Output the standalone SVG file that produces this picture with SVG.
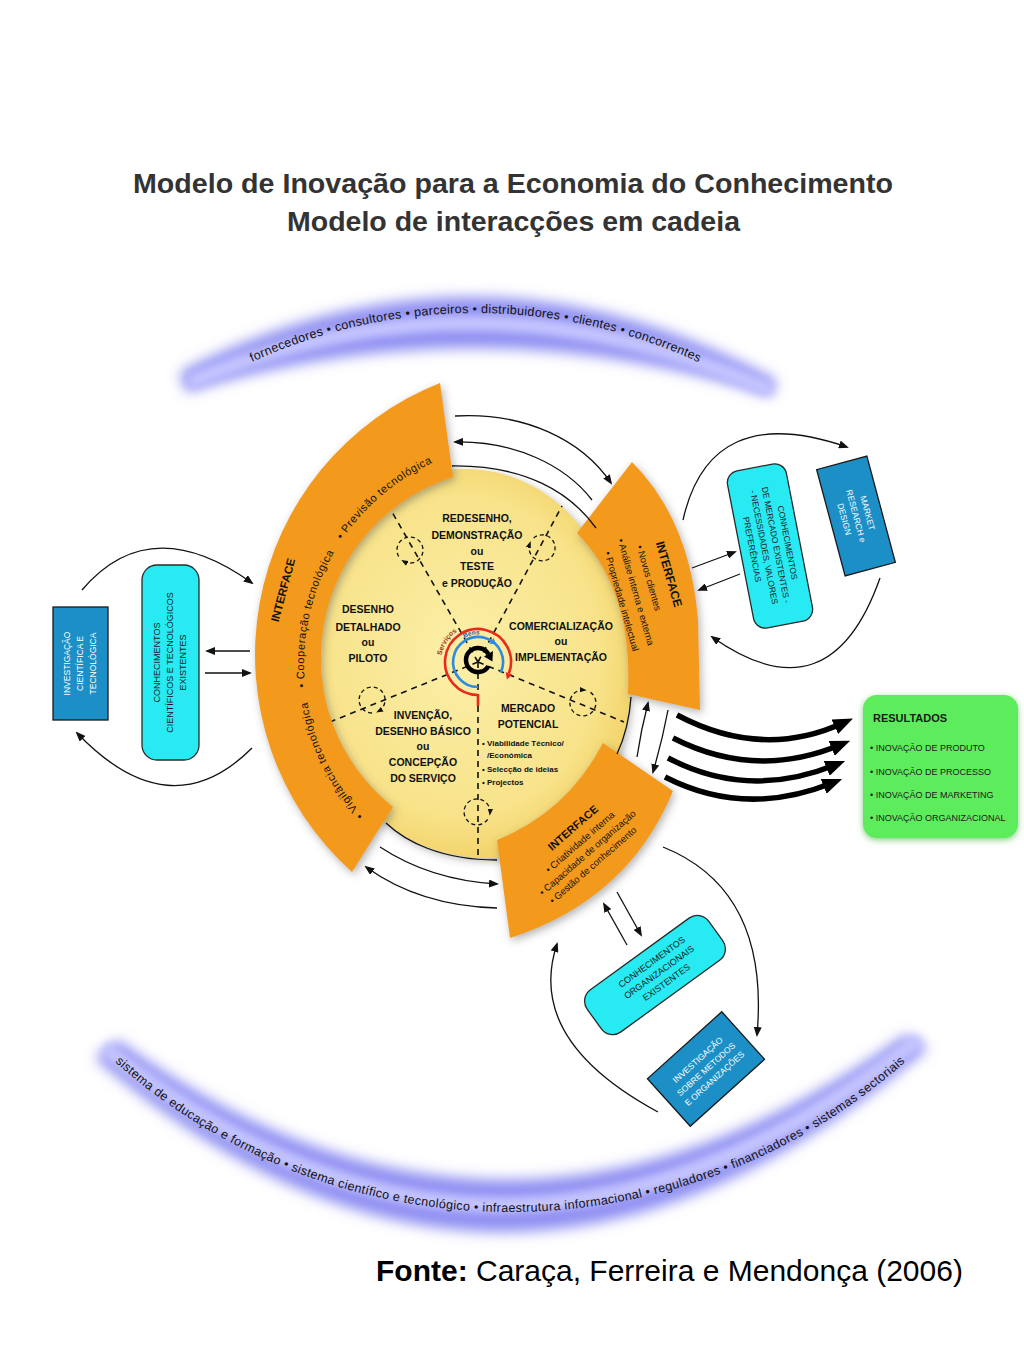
<svg xmlns="http://www.w3.org/2000/svg" width="1024" height="1365" viewBox="0 0 1024 1365">
<defs>
<style>
.title{font-family:"Liberation Sans",Arial,sans-serif;font-weight:bold;font-size:28.5px;fill:#333;text-anchor:middle}
.arcT{font-family:"Liberation Sans",Arial,sans-serif;font-size:12.5px;fill:#111}
.stage{font-family:"Liberation Sans",Arial,sans-serif;font-weight:bold;font-size:10.5px;fill:#111;text-anchor:middle}
.small{font-family:"Liberation Sans",Arial,sans-serif;font-weight:bold;font-size:8px;fill:#111}
.ifT{font-family:"Liberation Sans",Arial,sans-serif;font-weight:bold;font-size:12px;fill:#111;text-anchor:middle}
.ifB{font-family:"Liberation Sans",Arial,sans-serif;font-size:9.5px;fill:#111;text-anchor:middle}
.arcL{font-family:"Liberation Sans",Arial,sans-serif;font-size:11px;fill:#111}
.box{font-family:"Liberation Sans",Arial,sans-serif;font-size:8.5px;text-anchor:middle;fill:#1a1a1a}
.wbox{font-family:"Liberation Sans",Arial,sans-serif;font-size:8.5px;text-anchor:middle;fill:#fff}
.res{font-family:"Liberation Sans",Arial,sans-serif;font-size:9px;fill:#1a1a1a}
.orange{fill:#f39a1e}
.cyan{fill:#27eaf2;stroke:#2a2a2a;stroke-width:1.3}
.dblue{fill:#1c8fc6;stroke:#1a1a1a;stroke-width:1.3}
.ln{fill:none;stroke:#111;stroke-width:1.3}
.la{fill:none;stroke:#111;stroke-width:1.3;marker-end:url(#ah)}
.thick{fill:none;stroke:#000;stroke-width:5.5;marker-end:url(#ahb)}
.dash{fill:none;stroke:#111;stroke-width:1.6;stroke-dasharray:6 5}
.dcirc{fill:none;stroke:#111;stroke-width:1.3;stroke-dasharray:4 3;marker-end:url(#ahs)}
</style>
<marker id="ah" viewBox="0 0 10 8" refX="8" refY="4" markerWidth="10" markerHeight="8" markerUnits="userSpaceOnUse" orient="auto"><path d="M0,0L10,4L0,8Z" fill="#111"/></marker>
<marker id="ahs" viewBox="0 0 8 6" refX="5" refY="3" markerWidth="7" markerHeight="6" markerUnits="userSpaceOnUse" orient="auto"><path d="M0,0L8,3L0,6Z" fill="#111"/></marker>
<marker id="ahb" viewBox="0 0 20 16" refX="9" refY="8" markerWidth="20" markerHeight="16" markerUnits="userSpaceOnUse" orient="auto"><path d="M0,0L20,8L0,16Z" fill="#000"/></marker>
<filter id="blurA" x="-10%" y="-40%" width="120%" height="180%"><feGaussianBlur stdDeviation="7"/></filter>
<filter id="blurB" x="-10%" y="-40%" width="120%" height="180%"><feGaussianBlur stdDeviation="4"/></filter>
<filter id="sh" x="-20%" y="-20%" width="140%" height="140%"><feDropShadow dx="2" dy="3" stdDeviation="4" flood-color="#555" flood-opacity="0.45"/></filter>
<filter id="gsh" x="-20%" y="-20%" width="140%" height="140%"><feDropShadow dx="0" dy="2" stdDeviation="3" flood-color="#3a3" flood-opacity="0.6"/></filter>
<radialGradient id="yg" cx="50%" cy="48%" r="55%"><stop offset="0" stop-color="#fbefa8"/><stop offset="0.75" stop-color="#f8e38a"/><stop offset="1" stop-color="#f1d063"/></radialGradient>
<path id="topArc" d="M252,362 A532,532 0 0,1 698,362"/>
<path id="botArc" d="M115,1062 A595,595 0 0,0 905,1062"/>
<path id="arcV" d="M363.6,815.4 A222,222 0 0,1 306.2,694.9"/>
<path id="arcC" d="M305.2,687.2 A222,222 0 0,1 337.7,546.4"/>
<path id="arcP" d="M342,539.9 A222,222 0 0,1 435.7,461.2"/>
<path id="servArc" d="M441.6,655.6 A37,37 0 0,1 462.4,628.5"/>
<path id="bensArc" d="M464.3,638.2 A27.5,27.5 0 0,1 482.8,634.9"/>
</defs>
<rect width="1024" height="1365" fill="#fff"/>

<g id="title">
<text x="513" y="193" class="title" textLength="760" lengthAdjust="spacingAndGlyphs">Modelo de Inovação para a Economia do Conhecimento</text>
<text x="513.5" y="231" class="title" textLength="453" lengthAdjust="spacingAndGlyphs">Modelo de interacções em cadeia</text>
</g>

<g id="band-top">
<path d="M180,372 Q478,218 776,380 L772,396 Q478,302 186,392 Z" fill="#8e8ef2" filter="url(#blurA)"/>
<path d="M195,380 Q478,262 765,388" fill="none" stroke="#c4c4ff" stroke-width="16" stroke-linecap="round" filter="url(#blurB)"/>
<text class="arcT"><textPath href="#topArc" textLength="461">fornecedores • consultores • parceiros • distribuidores • clientes • concorrentes</textPath></text>
</g>

<g id="band-bottom">
<path d="M95,1058 Q505,1411 928,1048 L905,1035 Q505,1322 118,1040 Z" fill="#8e8ef2" filter="url(#blurA)"/>
<path d="M110,1052 Q505,1362 914,1043" fill="none" stroke="#c4c4ff" stroke-width="16" stroke-linecap="round" filter="url(#blurB)"/>
<text class="arcT"><textPath href="#botArc" textLength="864">sistema de educação e formação • sistema científico e tecnológico • infraestrutura informacional • reguladores • financiadores • sistemas sectoriais</textPath></text>
</g>

<g id="core">
<path d="M465,469 C560,469 632,560 630,690 C628,790 560,858 490,858 C440,858 405,840 385,822 C320,760 290,700 292,660 C295,540 370,469 465,469 Z" fill="url(#yg)" filter="url(#sh)"/>
<path class="dash" d="M478,662 L392,512"/>
<path class="dash" d="M478,662 L562,506"/>
<path class="dash" d="M478,662 L624,722"/>
<path class="dash" d="M478,662 L478,856"/>
<path class="dash" d="M478,662 L330,722"/>
<path class="dcirc" d="M398.7,556.5 A13,13 0 1,1 403.5,561.3"/>
<path class="dcirc" d="M533.6,538 A13,13 0 1,1 529.8,543.6"/>
<path class="dcirc" d="M590.5,692.4 A13,13 0 1,1 584.1,690"/>
<path class="dcirc" d="M487.6,819.5 A13,13 0 1,1 490,813.1"/>
<path class="dcirc" d="M372,713 A13,13 0 1,1 378.5,711.3"/>
<path d="M478,695 A33,33 0 1,1 509,673.3" fill="none" stroke="#e82a1c" stroke-width="2.6"/>
<path d="M478,694 L478,706" stroke="#e82a1c" stroke-width="2.6"/>
<path d="M512.3,674.5 L505.7,672.1 L506.9,679.5 Z" fill="#e82a1c"/>
<path d="M478,687 A25,25 0 1,1 500.7,672.6" fill="none" stroke="#2f8be0" stroke-width="2.6"/>
<path d="M493.5,638 L489.5,643.8 L496.4,644.4 Z" fill="#2f8be0"/>
<path d="M488.4,666 A12,12 0 1,1 488.4,654" fill="none" stroke="#000" stroke-width="4.5"/>
<path d="M493,651 L484,656.5 L492.4,661.5 Z" fill="#000"/>
<text style="font-family:'Liberation Sans',Arial,sans-serif;font-weight:bold;font-size:7px;fill:#a0381e"><textPath href="#servArc">Serviços</textPath></text>
<text style="font-family:'Liberation Sans',Arial,sans-serif;font-weight:bold;font-size:6.5px;fill:#2a5aa8"><textPath href="#bensArc">Bens</textPath></text>
<text class="stage" x="477" y="522">REDESENHO,</text>
<text class="stage" x="477" y="539">DEMONSTRAÇÃO</text>
<text class="stage" x="477" y="555">ou</text>
<text class="stage" x="477" y="570">TESTE</text>
<text class="stage" x="477" y="587">e PRODUÇÃO</text>
<text class="stage" x="368" y="613">DESENHO</text>
<text class="stage" x="368" y="631">DETALHADO</text>
<text class="stage" x="368" y="646">ou</text>
<text class="stage" x="368" y="662">PILOTO</text>
<text class="stage" x="561" y="630">COMERCIALIZAÇÃO</text>
<text class="stage" x="561" y="645">ou</text>
<text class="stage" x="561" y="661">IMPLEMENTAÇÃO</text>
<text class="stage" x="423" y="719">INVENÇÃO,</text>
<text class="stage" x="423" y="735">DESENHO BÁSICO</text>
<text class="stage" x="423" y="750">ou</text>
<text class="stage" x="423" y="766">CONCEPÇÃO</text>
<text class="stage" x="423" y="782">DO SERVIÇO</text>
<text class="stage" x="528" y="712">MERCADO</text>
<text class="stage" x="528" y="728">POTENCIAL</text>
<text class="small" x="482" y="746">• Viabilidade Técnico/</text>
<text class="small" x="487" y="758">/Económica</text>
<text class="small" x="482" y="772">• Selecção de ideias</text>
<text class="small" x="482" y="785">• Projectos</text>
</g>

<g id="interface-left">
<path class="orange" d="M440,383 A292,292 0 0,0 352,872 L393,807 A190,190 0 0,1 453,477 Z" filter="url(#sh)"/>
<g transform="translate(283,590) rotate(-75)"><text class="ifT" x="0" y="4" style="font-size:11.5px">INTERFACE</text></g>
<text class="arcL"><textPath href="#arcV" textLength="128">• Vigilância tecnológica</textPath></text>
<text class="arcL"><textPath href="#arcC" textLength="140">• Cooperação tecnológica</textPath></text>
<text class="arcL"><textPath href="#arcP" textLength="120">• Previsão tecnológica</textPath></text>
</g>

<g id="interface-right">
<path class="orange" d="M632,462 Q690,520 698,620 L700,710 L628,694 Q633,590 577,533 Z" filter="url(#sh)"/>
<g transform="translate(636,592) rotate(74)">
<text class="ifT" x="-8" y="-32.5">INTERFACE</text>
<text class="ifB" x="-10" y="-13">• Novos clientes</text>
<text class="ifB" x="0" y="3.5">• Análise interna e externa</text>
<text class="ifB" x="5" y="19.5">• Propriedade intelectual</text>
</g>
</g>

<g id="interface-bottom">
<path class="orange" d="M497,840 Q567,812 603,743 L673,791 Q628,900 510,938 Z" filter="url(#sh)"/>
<g transform="translate(580,842) rotate(-41)">
<text class="ifT" x="4" y="-11.5" style="font-size:11px">INTERFACE</text>
<text class="ifB" x="0" y="3.3">• Criatividade interna</text>
<text class="ifB" x="-1.4" y="16.3">• Capacidade de organização</text>
<text class="ifB" x="-5.5" y="29.3">• Gestão de conhecimento</text>
</g>
</g>

<g id="investigacao-cientifica">
<rect class="dblue" x="53" y="607" width="55" height="113"/>
<g transform="translate(80.5,663.5) rotate(-90)">
<text class="wbox" x="0" y="-10.2">INVESTIGAÇÃO</text>
<text class="wbox" x="0" y="2.8">CIENTÍFICA E</text>
<text class="wbox" x="0" y="15.8">TECNOLÓGICA</text>
</g>
</g>

<g id="conhecimentos-cientificos">
<rect class="cyan" x="142" y="565" width="57" height="195" rx="15"/>
<g transform="translate(170.5,662.5) rotate(-90)">
<text class="box" x="0" y="-10.2" style="font-size:9px">CONHECIMENTOS</text>
<text class="box" x="0" y="2.8" style="font-size:9px">CIENTÍFICOS E TECNOLÓGICOS</text>
<text class="box" x="0" y="15.8" style="font-size:9px">EXISTENTES</text>
</g>
</g>

<g id="conhecimentos-mercado" transform="translate(770,546) rotate(-11)">
<rect class="cyan" x="-30" y="-80" width="60" height="160" rx="12"/>
<g transform="rotate(90)">
<text class="box" x="0" y="-15">CONHECIMENTOS</text>
<text class="box" x="0" y="-3">DE MERCADO EXISTENTES -</text>
<text class="box" x="0" y="9">- NECESSIDADES, VALORES</text>
<text class="box" x="0" y="21">PREFERÊNCIAS</text>
</g>
</g>

<g id="market-research" transform="translate(856,516) rotate(-15)">
<rect class="dblue" x="-26" y="-55" width="52" height="110"/>
<g transform="rotate(90)">
<text class="wbox" x="0" y="-9">MARKET</text>
<text class="wbox" x="0" y="3">RESEARCH e</text>
<text class="wbox" x="0" y="15">DESIGN</text>
</g>
</g>

<g id="conhecimentos-organizacionais" transform="translate(655,975) rotate(-36)">
<rect class="cyan" x="-75" y="-26" width="150" height="52" rx="14"/>
<text class="box" x="5" y="-9.3" style="font-size:9px">CONHECIMENTOS</text>
<text class="box" x="5" y="3.2" style="font-size:9px">ORGANIZACIONAIS</text>
<text class="box" x="5" y="15.7" style="font-size:9px">EXISTENTES</text>
</g>

<g id="investigacao-organizacoes" transform="translate(706,1069) rotate(-42)">
<rect class="dblue" x="-50" y="-32" width="100" height="64"/>
<text class="wbox" x="0" y="-9.3">INVESTIGAÇÃO</text>
<text class="wbox" x="0" y="3.2">SOBRE METODOS</text>
<text class="wbox" x="0" y="15.7">E ORGANIZAÇÕES</text>
</g>

<g id="resultados">
<rect x="863" y="695" width="155" height="143" rx="14" fill="#5ded5c" filter="url(#gsh)"/>
<text x="873" y="722" style="font-family:'Liberation Sans',Arial,sans-serif;font-weight:bold;font-size:11px;fill:#1a1a1a">RESULTADOS</text>
<text class="res" x="870" y="751">• INOVAÇÃO DE PRODUTO</text>
<text class="res" x="870" y="775">• INOVAÇÃO DE PROCESSO</text>
<text class="res" x="870" y="798">• INOVAÇÃO DE MARKETING</text>
<text class="res" x="870" y="821">• INOVAÇÃO ORGANIZACIONAL</text>
</g>

<g id="connectors">
<path class="la" d="M82,590 Q150,510 252,583"/>
<path class="la" d="M252,748 Q170,830 77,733"/>
<path class="la" d="M250,651 L207,651"/>
<path class="la" d="M205,673 L250,673"/>
<path class="la" d="M455,416 C525,412 582,440 611,483"/>
<path class="la" d="M592,500 C565,465 515,441 455,442"/>
<path class="ln" d="M452,466 C525,465 570,492 596,528"/>
<path class="ln" d="M631,697 Q629,728 617,754"/>
<path class="la" d="M637,757 Q641,730 648,703"/>
<path class="la" d="M668,710 Q662,742 653,772"/>
<path class="ln" d="M386,823 C405,841 440,860 497,860"/>
<path class="la" d="M380,847 Q430,880 497,884"/>
<path class="la" d="M497,908 Q420,906 366,867"/>
<path class="la" d="M683,520 Q710,400 847,447"/>
<path class="la" d="M880,578 Q830,720 712,637"/>
<path class="la" d="M692,568 L735,552"/>
<path class="la" d="M740,574 L699,590"/>
<path class="la" d="M627,945 L604,904"/>
<path class="la" d="M617,892 L641,935"/>
<path class="la" d="M658,1112 Q525,1040 557,944"/>
<path class="la" d="M663,847 Q770,890 757,1035"/>
<path class="thick" d="M677,715 Q762,760 843,723"/>
<path class="thick" d="M673,738 Q755,780 840,745"/>
<path class="thick" d="M668,758 Q748,800 835,765"/>
<path class="thick" d="M665,777 Q745,818 832,783"/>
</g>

<g id="fonte">
<text x="376" y="1281" style="font-family:'Liberation Sans',Arial,sans-serif;font-size:30px;fill:#000"><tspan font-weight="bold">Fonte:</tspan> Caraça, Ferreira e Mendonça (2006)</text>
</g>
</svg>
